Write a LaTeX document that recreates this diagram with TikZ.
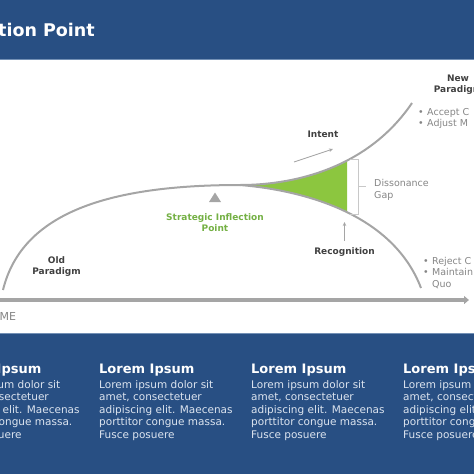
\documentclass[tikz,border=0pt]{standalone}
\usepackage{fontspec}
\setmainfont{DejaVu Sans}
\usetikzlibrary{arrows.meta}
\definecolor{hdrblue}{HTML}{284F83}
\definecolor{hdrline}{HTML}{7390B5}
\definecolor{curvegray}{HTML}{A5A5A5}
\definecolor{lblgray}{HTML}{404040}
\definecolor{txtgray}{HTML}{858585}
\definecolor{sipgreen}{HTML}{74B044}
\definecolor{gapgreen}{HTML}{8CC63F}
\definecolor{bodytxt}{HTML}{DCE4EF}
\definecolor{brgray}{HTML}{C8C8C8}
\newcommand{\bul}[1]{\makebox[9pt][l]{•}#1}
\begin{document}
\begin{tikzpicture}[x=1pt,y=-1pt,
  curve/.style={draw=curvegray, line width=2pt},
  boldlbl/.style={font=\bfseries\fontsize{9}{11.5}\selectfont, text=lblgray, align=center, inner sep=0},
  greylbl/.style={font=\fontsize{9.5}{11.5}\selectfont, text=txtgray, align=left, inner sep=0, anchor=west},
  thinarrow/.style={draw=curvegray, line width=0.8pt, -{Stealth[length=4pt,width=3.5pt]}},
  colhead/.style={font=\bfseries\fontsize{13}{15}\selectfont, text=white, anchor=base west, inner sep=0},
  colbody/.style={font=\fontsize{10.5}{12.5}\selectfont, text=bodytxt, anchor=north west, align=left, inner sep=0}]
\useasboundingbox (0,0) rectangle (474,474);
% header
\fill[hdrblue] (0,0) rectangle (474,59);
\draw[hdrline, line width=1.5pt] (0,59.5) -- (474,59.5);
\node[font=\bfseries\fontsize{17.5}{20}\selectfont, text=white, anchor=base east, inner sep=0] (title) at (95,36) {tion Point};
% key points
\coordinate (s) at (3,290);
\coordinate (split) at (240,185);
\coordinate (up) at (412,103);
\coordinate (lo) at (421,288);
% green gap
\begin{scope}
\clip (0,0) rectangle (347,474);
\fill[gapgreen] (split) .. controls (300,185) and (370,165) .. (up) -- (lo) .. controls (392,212) and (300,190) .. (split) -- cycle;
\end{scope}
% curves
\draw[curve] (s) .. controls (22,212) and (110,185) .. (split);
\draw[curve] (split) .. controls (300,185) and (370,165) .. (up);
\draw[curve] (split) .. controls (300,190) and (392,212) .. (lo);
% bracket
\coordinate (bt) at (350,159);
\coordinate (bb) at (350,214);
\draw[brgray, line width=0.8pt] (bt) -- ++(8,0) -- ++(0,55) -- (bb);
\draw[brgray, line width=0.8pt] (358,186.5) -- (366,186.5);
\node[greylbl] (gap) at (374,190) {Dissonance\\Gap};
% triangle marker
\fill[curvegray] (215,192.5) -- (221,202) -- (209,202) -- cycle;
\node[boldlbl, text=sipgreen] (sip) at (215,222.5) {Strategic Inflection\\Point};
% intent
\node[boldlbl] (intent) at (323,134) {Intent};
\coordinate (ia) at (294,162);
\coordinate (ib) at (333,149);
\draw[thinarrow] (ia) -- (ib);
% recognition
\node[boldlbl] (recog) at (344.5,252.5) {Recognition};
\coordinate (ra) at (344.5,241);
\coordinate (rb) at (344.5,222);
\draw[thinarrow] (ra) -- (rb);
% paradigms
\node[boldlbl] (old) at (56.5,266.5) {Old\\Paradigm};
\node[boldlbl] (new) at (458,84.5) {New\\Paradigm};
\node[greylbl] (acc) at (418,118.5) {\bul{Accept C}\\\bul{Adjust M}};
\node[greylbl] (rej) at (423,272.5) {\bul{Reject C}\\\bul{Maintain}\\\hspace*{9pt}Quo};
% time axis
\coordinate (axl) at (0,300);
\coordinate (axr) at (469,300);
\draw[curvegray, line width=3.5pt, -{Triangle[length=5pt,width=8pt]}] (axl) -- (axr);
\node[font=\fontsize{11}{13}\selectfont, text=txtgray, anchor=west, inner sep=0] (time) at (-0.5,316.5) {ME};
% bottom panel
\fill[hdrblue] (0,333) rectangle (474,474);
\draw[hdrline, line width=1pt] (0,333) -- (474,333);
\foreach \x/\n in {-54/a,99/b,251/c,403/d}{
  \node[colhead] (h\n) at (\x,373) {Lorem Ipsum};
  \node[colbody] (t\n) at (\x,380) {Lorem ipsum dolor sit\\amet, consectetuer\\adipiscing elit. Maecenas\\porttitor congue massa.\\Fusce posuere};
}
\end{tikzpicture}
\end{document}
